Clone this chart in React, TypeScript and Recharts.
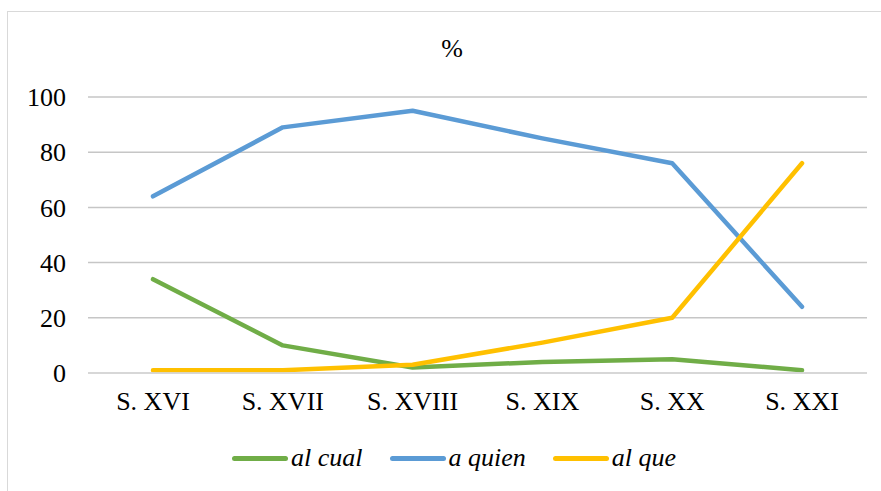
import { LineChart, Line, XAxis, YAxis, CartesianGrid } from 'recharts'

const CATEGORIES = ['S. XVI', 'S. XVII', 'S. XVIII', 'S. XIX', 'S. XX', 'S. XXI']
const AL_CUAL = [34, 10, 2, 4, 5, 1]
const A_QUIEN = [64, 89, 95, 85, 76, 24]
const AL_QUE = [1, 1, 3, 11, 20, 76]
const Y_TICKS = [0, 20, 40, 60, 80, 100]

const SERIES = [
  { key: 'alCual', name: 'al cual', color: '#70AD47' },
  { key: 'aQuien', name: 'a quien', color: '#5B9BD5' },
  { key: 'alQue', name: 'al que', color: '#FFC000' },
]

const FONT = '"Liberation Serif", "Times New Roman", serif'

const data = CATEGORIES.map((name, i) => ({
  name,
  alCual: AL_CUAL[i],
  aQuien: A_QUIEN[i],
  alQue: AL_QUE[i],
}))

function ChartLegend() {
  return (
    <div style={{ position: 'absolute', left: 232, top: 442, display: 'flex', alignItems: 'center', fontFamily: FONT, fontSize: 26, fontStyle: 'italic', color: '#000', lineHeight: '32px' }}>
      {SERIES.map((s, i) => (
        <div key={s.key} style={{ display: 'flex', alignItems: 'center', marginLeft: i === 0 ? 0 : 27 }}>
          <span style={{ display: 'inline-block', width: 56, height: 5, borderRadius: 3, background: s.color, marginRight: 3 }} />
          <span>{s.name}</span>
        </div>
      ))}
    </div>
  )
}

export default function App() {
  return (
    <div style={{ position: 'absolute', left: 0, top: 0, width: 881, height: 491, overflow: 'hidden', background: '#fff' }}>
      <div style={{ position: 'absolute', left: 7, top: 11, width: 900, height: 520, border: '1.5px solid #d9d9d9' }} />
      <div style={{ position: 'absolute', left: 0, top: 34, width: 904, textAlign: 'center', fontFamily: FONT, fontSize: 26, color: '#000' }}>%</div>
      <LineChart width={881} height={491} data={data} margin={{ top: 97, right: 14, bottom: 88, left: 0 }} style={{ position: 'absolute', left: 0, top: 0 }}>
        <CartesianGrid vertical={false} stroke="#c6c6c6" strokeWidth={1.5} />
        <XAxis
          dataKey="name"
          height={30}
          padding={{ left: 65, right: 65 }}
          axisLine={{ stroke: '#d9d9d9', strokeWidth: 1.5 }}
          tickLine={false}
          tickSize={0}
          tickMargin={19}
          interval={0}
          tick={{ fill: '#000', fontSize: 26, fontFamily: FONT }}
        />
        <YAxis
          domain={[0, 100]}
          ticks={Y_TICKS}
          width={88}
          axisLine={false}
          tickLine={false}
          tickSize={0}
          tickMargin={22}
          tick={{ fill: '#000', fontSize: 26, fontFamily: FONT }}
        />
        {SERIES.map(s => (
          <Line
            key={s.key}
            dataKey={s.key}
            name={s.name}
            stroke={s.color}
            strokeWidth={4.5}
            strokeLinecap="round"
            strokeLinejoin="round"
            dot={false}
            activeDot={false}
            type="linear"
            isAnimationActive={false}
          />
        ))}
      </LineChart>
      <ChartLegend />
    </div>
  )
}
